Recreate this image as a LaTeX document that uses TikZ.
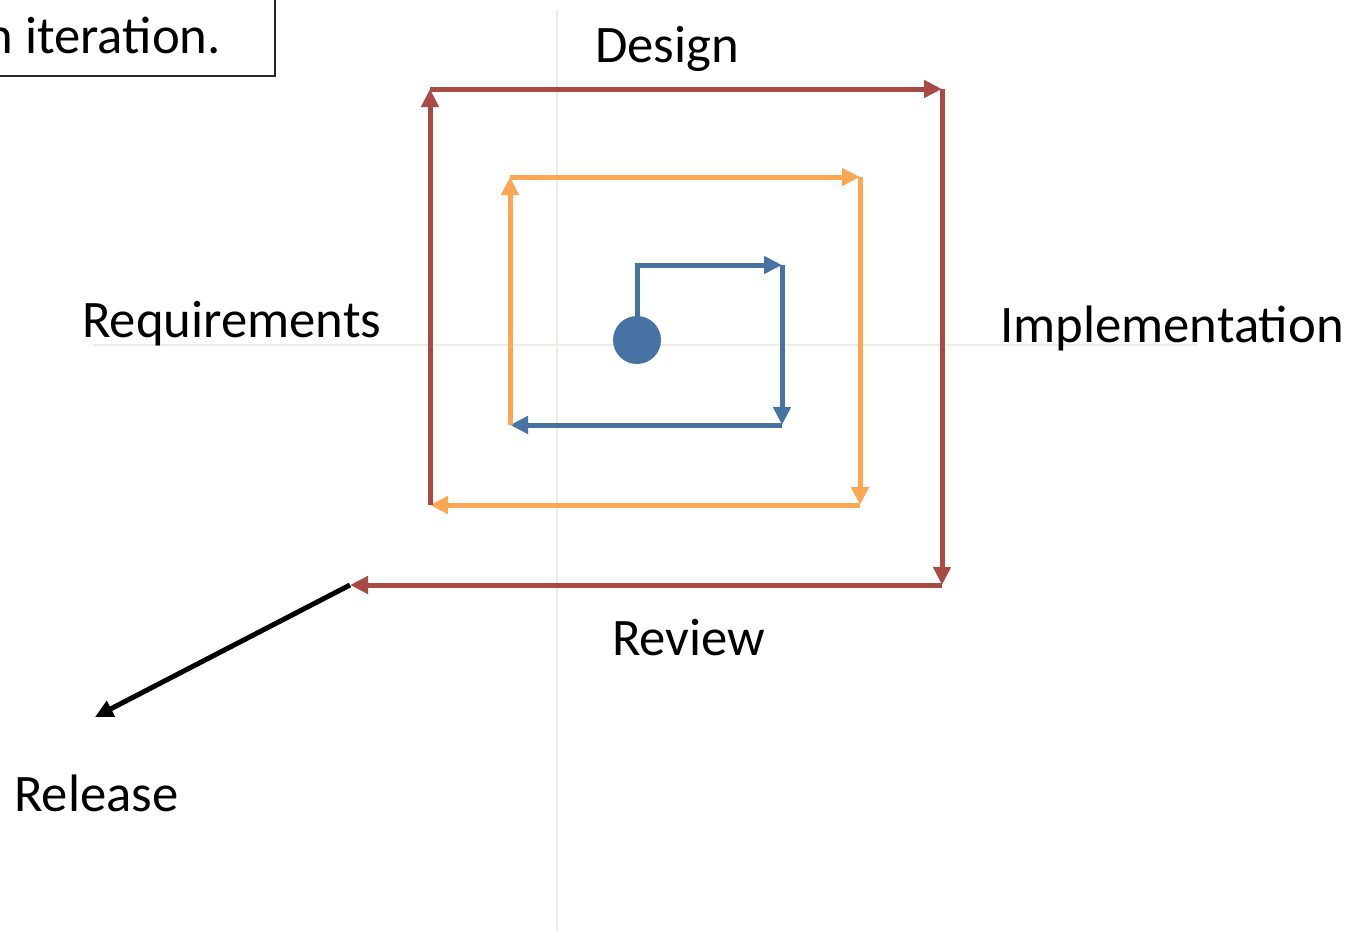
\documentclass[tikz,border=0pt]{standalone}
\usepackage{fontspec}
\setmainfont{Carlito}
\usetikzlibrary{arrows.meta}
\definecolor{spiralblue}{HTML}{4672A4}
\definecolor{spiralorange}{HTML}{FAA652}
\definecolor{spiralred}{HTML}{A84B46}
\definecolor{axisgray}{HTML}{EDEDE3}

\begin{document}
\begin{tikzpicture}[x=1pt,y=-1pt,
  seg/.style={line width=5pt,-{Triangle[length=18pt,width=17pt]}},
  lbl/.style={font=\fontsize{52.7}{60}\selectfont,inner sep=0pt,anchor=base west}]
\useasboundingbox (0,0) rectangle (1361,932);
% faint axes
\draw[axisgray,line width=2pt] (557,10) -- (557,932);
\draw[axisgray,line width=2pt] (93,345) -- (1197,345);
% corners of the spiral
\foreach \n/\a/\b in {b0/637/265, b1/782/265, b2/782/425, o0/510/425, o1/510/177,
  o2/860/177, o3/860/505, r0/430/505, r1/430/89, r2/942/89, r3/942/585,
  rel/350/585, out/95/717}
  \coordinate (\n) at (\a,\b);
\node[circle,fill=spiralblue,minimum size=48pt,inner sep=0pt] (start) at (637,340) {};
\draw[seg,spiralblue] (start.center) -- (b0) -- (b1);
\foreach \p/\q/\c in {b1/b2/spiralblue, b2/o0/spiralblue,
  o0/o1/spiralorange, o1/o2/spiralorange, o2/o3/spiralorange, o3/r0/spiralorange,
  r0/r1/spiralred, r1/r2/spiralred, r2/r3/spiralred, r3/rel/spiralred,
  rel/out/black}
  \draw[seg,\c] (\p) -- (\q);
% labels
\node[lbl] (design) at (595,62) {Design};
\node[lbl] (req) at (82,337) {Requirements};
\node[lbl] (impl) at (1000,342) {Implementation};
\node[lbl] (review) at (612,655) {Review};
\node[lbl] (release) at (14,811) {Release};
% note box, cut at the edge
\node[lbl,anchor=base east] (note) at (221,53) {n iteration.};
\draw[line width=1.5pt,black!85] (-5,76) -- (275,76) -- (275,-5);
\end{tikzpicture}
\end{document}
